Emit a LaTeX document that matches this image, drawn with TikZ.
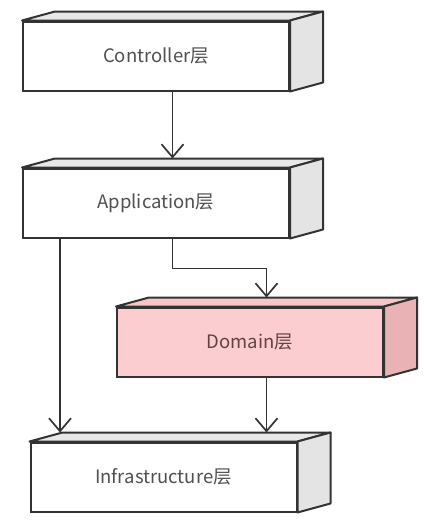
\documentclass[tikz,border=0pt]{standalone}
\usepackage{fontspec}
\setmainfont{Noto Sans CJK SC}
\usetikzlibrary{arrows.meta, positioning, calc}

\definecolor{edgegray}{HTML}{333333}
\definecolor{labelgray}{HTML}{505050}
\definecolor{topgray}{HTML}{E8E8E8}
\definecolor{sidegray}{HTML}{E4E4E4}
\definecolor{frontpink}{HTML}{FBCDD0}
\definecolor{toppink}{HTML}{F7C6C9}
\definecolor{sidepink}{HTML}{E9B2B5}
\definecolor{labelbrown}{HTML}{644244}

\begin{document}
\begin{tikzpicture}[x=1pt, y=-1pt,
  layer/.style={draw=edgegray, line width=2pt, fill=white, minimum width=266pt, minimum height=69pt, inner sep=0pt, text=labelgray, font=\fontsize{18.5}{20}\selectfont},
  face/.style={draw=edgegray, line width=2pt, line join=round},
  link/.style={draw=edgegray, line width=1.7pt, -{Straight Barb[length=13pt,width=22pt]}}]
  \useasboundingbox (0,0) rectangle (423,522);

  % Layers
  \node[layer] (ctrl) at (156,56) {Controller层};
  \node[layer] (app) at (156,203) {Application层};
  \node[layer, fill=frontpink, text=labelbrown] (dom) at (250,342) {Domain层};
  \node[layer] (infra) at (163.5,477) {Infrastructure层};

  % Top and side faces
  \foreach \n/\topc/\sidec in {ctrl/topgray/sidegray, app/topgray/sidegray, dom/toppink/sidepink, infra/topgray/sidegray} {
    \draw[face, fill=\topc] (\n.north west) -- ++(33pt,9pt) -- ([xshift=33pt,yshift=9pt]\n.north east) -- (\n.north east) -- cycle;
    \draw[face, fill=\sidec] (\n.north east) -- ++(33pt,9pt) -- ([xshift=33pt,yshift=9pt]\n.south east) -- (\n.south east) -- cycle;
  }

  % Connector ends
  \coordinate (ctrl-out) at ([xshift=16.5pt]ctrl.south);
  \coordinate (app-out) at ([xshift=16.5pt]app.south);
  \coordinate (app-left) at ([xshift=-96pt]app.south);
  \coordinate (app-top) at ([xshift=16.5pt,yshift=9pt]app.north);
  \coordinate (dom-top) at ([xshift=16.5pt,yshift=9pt]dom.north);
  \coordinate (dom-out) at ([xshift=16.5pt]dom.south);
  \coordinate (infra-top) at ([yshift=9pt]infra.north);

  % Dependencies
  \draw[link] (ctrl-out) -- (app-top);
  \draw[link] (app-out) -- ++(0,30) -| (dom-top);
  \draw[link] (app-left) -- (app-left |- infra-top);
  \draw[link] (dom-out) -- (dom-out |- infra-top);
\end{tikzpicture}
\end{document}
